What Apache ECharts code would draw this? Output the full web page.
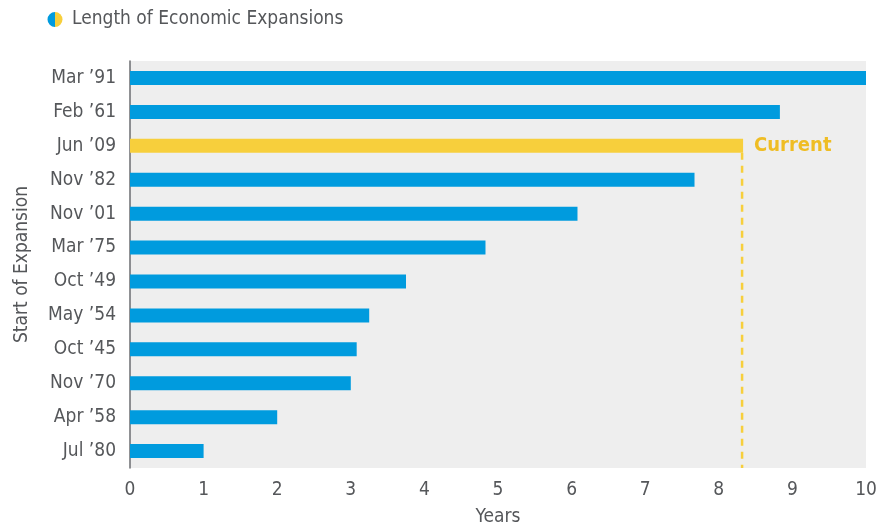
<!DOCTYPE html>
<html>
<head>
<meta charset="utf-8">
<script src="https://cdn.jsdelivr.net/npm/echarts@6/dist/echarts.min.js"></script>
<style>
  html, body { margin: 0; padding: 0; background: #fff; }
  #chart { width: 876px; height: 527px; }
</style>
</head>
<body>
<div id="chart"></div>
<script>
// start of each expansion, top to bottom
const categories = ['Mar ’91', 'Feb ’61', 'Jun ’09', 'Nov ’82', 'Nov ’01', 'Mar ’75',
  'Oct ’49', 'May ’54', 'Oct ’45', 'Nov ’70', 'Apr ’58', 'Jul ’80'];
// length in years
const years = [10.0, 8.83, 8.33, 7.67, 6.08, 4.83, 3.75, 3.25, 3.08, 3.0, 2.0, 1.0];
const currentName = 'Jun ’09';
const xTicks = [0, 10, 1]; // min, max, interval

const FONT = '"Liberation Sans Narrow", "DejaVu Sans Condensed", Roboto, sans-serif';
const BLUE = '#009bde';
const YELLOW = '#f7cf3c';
const TEXT = '#55575a';

const chart = echarts.init(document.getElementById('chart'), null, { renderer: 'canvas' });

const currentIdx = categories.indexOf(currentName);
const barData = years.map(function (v, i) {
  const item = { value: v };
  if (i === currentIdx) {
    item.itemStyle = { color: YELLOW };
    item.label = {
      show: true,
      position: 'right',
      distance: 11,
      formatter: 'Current',
      color: '#efbd24',
      fontWeight: 'bold',
      fontSize: 20,
      fontFamily: FONT
    };
  }
  return item;
});

const option = {
  animation: false,
  textStyle: { fontFamily: FONT },
  graphic: [
    {
      type: 'sector', x: 55, y: 19.5,
      shape: { cx: 0, cy: 0, r: 7.5, startAngle: Math.PI / 2, endAngle: Math.PI * 1.5 },
      style: { fill: BLUE }
    },
    {
      type: 'sector', x: 55, y: 19.5,
      shape: { cx: 0, cy: 0, r: 7.5, startAngle: -Math.PI / 2, endAngle: Math.PI / 2 },
      style: { fill: YELLOW }
    },
    {
      type: 'text', x: 72, y: 19.5,
      style: {
        text: 'Length of Economic Expansions', fill: TEXT, fontSize: 19,
        fontFamily: FONT, verticalAlign: 'middle'
      }
    }
  ],
  grid: {
    left: 130, right: 10, top: 61, bottom: 59,
    outerBoundsMode: 'none',
    containLabel: false,
    show: true, backgroundColor: '#eeeeee', borderWidth: 0
  },
  xAxis: {
    type: 'value',
    min: xTicks[0], max: xTicks[1], interval: xTicks[2],
    name: 'Years', nameLocation: 'middle', nameGap: 40,
    nameTextStyle: { color: TEXT, fontSize: 19, fontFamily: FONT },
    axisLine: { show: false },
    axisTick: { show: false },
    splitLine: { show: false },
    axisLabel: { color: TEXT, fontSize: 19, margin: 13, fontFamily: FONT }
  },
  yAxis: {
    type: 'category',
    data: categories,
    inverse: true,
    name: 'Start of Expansion', nameLocation: 'middle', nameGap: 98,
    nameTextStyle: { color: TEXT, fontSize: 19, fontFamily: FONT },
    axisLine: { show: true, lineStyle: { color: '#6b6d70', width: 1.5 } },
    axisTick: { show: false },
    axisLabel: { color: TEXT, fontSize: 19, margin: 14, fontFamily: FONT }
  },
  series: [
    {
      type: 'bar',
      barWidth: 14,
      itemStyle: { color: BLUE },
      data: barData,
      z: 3
    },
    {
      // dashed marker under the current expansion bar
      type: 'custom',
      z: 2,
      silent: true,
      data: [[years[currentIdx], currentIdx]],
      renderItem: function (params, api) {
        const top = api.coord([api.value(0), api.value(1)]);
        const band = api.size([0, 1])[1];
        const bottom = api.coord([api.value(0), categories.length - 1]);
        return {
          type: 'line',
          shape: { x1: top[0] - 1, y1: top[1] + 7, x2: top[0] - 1, y2: bottom[1] + band / 2 },
          style: { stroke: YELLOW, lineWidth: 2.5, lineDash: [7, 6] }
        };
      }
    }
  ]
};

chart.setOption(option);
</script>
</body>
</html>
